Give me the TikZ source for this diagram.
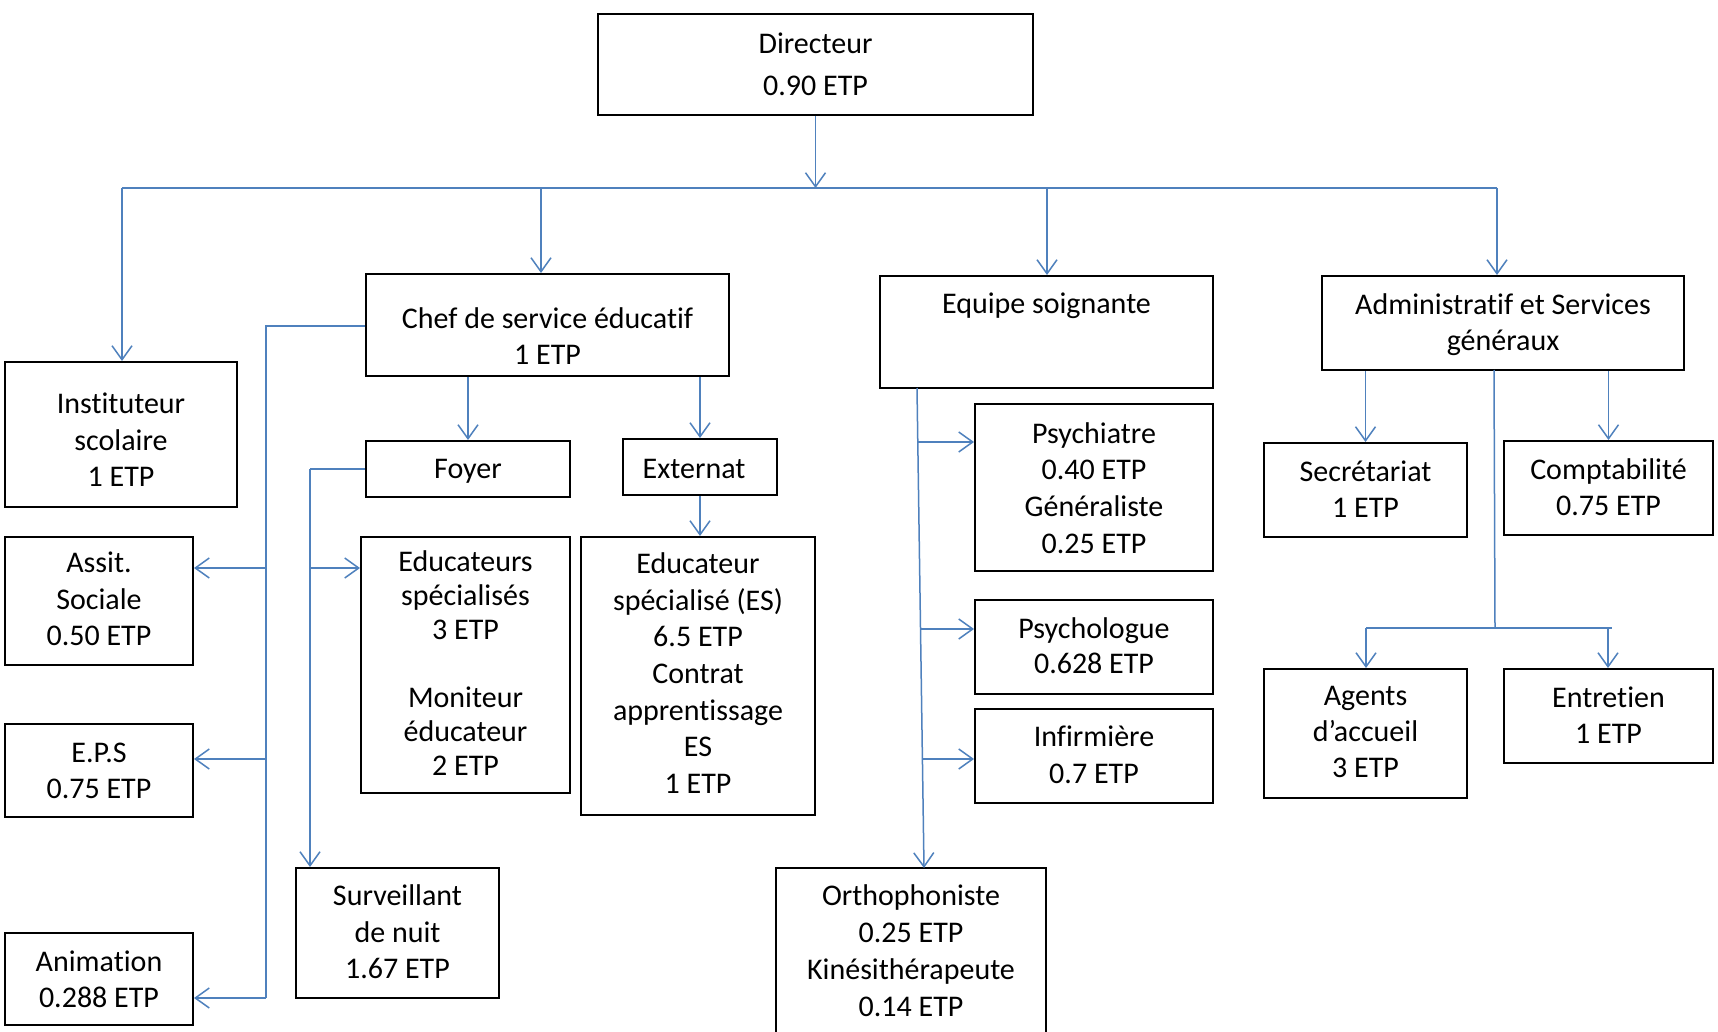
\documentclass[tikz,border=0pt]{standalone}
\usepackage{fontspec}
\setmainfont{Carlito}[Ligatures=NoCommon]
\usetikzlibrary{fit,arrows.meta}
\definecolor{conn}{RGB}{79,129,189}
\tikzset{
 box/.style={draw=black, line width=1pt, inner sep=0pt},
 txt/.style={align=center, inner sep=0pt, font=\fontsize{15pt}{#1}\selectfont},
 ln/.style={draw=conn, line width=0.75pt},
 arr/.style={ln, -{Straight Barb[length=7pt,width=10pt,line width=0.75pt]}},
}
\begin{document}
\begin{tikzpicture}[x=0.5pt,y=-0.5pt]
\fill[white] (0,0) rectangle (1718,1032);
\useasboundingbox (0,0) rectangle (1718,1032);
\clip (0,0) rectangle (1718,1032);
% boxes
\node[box, fit={(598,14) (1033,115)}] (dir) {};
\node[txt=21pt] (dirT) at (815.5,64) {Directeur\\0.90 ETP};
\node[box, fit={(5,362) (237,507)}] (inst) {};
\node[txt=18.25pt] (instT) at (121,440) {Instituteur\\scolaire\\1 ETP};
\node[box, fit={(366,274) (729,376)}] (chef) {};
\node[txt=18pt] (chefT) at (547.5,336) {Chef de service éducatif\\1 ETP};
\node[box, fit={(880,276) (1213,388)}] (equipe) {};
\node[txt=18pt] (equipeT) at (1046.5,306) {Equipe soignante};
\node[box, fit={(1322,276) (1684,370)}] (admin) {};
\node[txt=18pt] (adminT) at (1503,325) {Administratif et Services\\généraux};
\node[box, fit={(366,441) (570,497)}] (foyer) {};
\node[txt=18pt] (foyerT) at (468,471) {Foyer};
\node[box, fit={(623,439) (777,495)}] (ext) {};
\node[txt=18pt] (extT) at (694,469) {Externat};
\node[box, fit={(5,537) (193,665)}] (assit) {};
\node[txt=18.25pt] (assitT) at (99,599) {Assit.\\Sociale\\0.50 ETP};
\node[box, fit={(361,537) (570,793)}] (educs) {};
\node[txt=17pt] (educsT) at (465.5,663) {Educateurs\\spécialisés\\3 ETP\\[17pt]Moniteur\\éducateur\\2 ETP};
\node[box, fit={(581,537) (815,815)}] (es) {};
\node[txt=18.35pt] (esT) at (698,673) {Educateur\\spécialisé (ES)\\6.5 ETP\\Contrat\\apprentissage\\ES\\1 ETP};
\node[box, fit={(5,724) (193,817)}] (eps) {};
\node[txt=18pt] (epsT) at (99,771) {E.P.S\\0.75 ETP};
\node[box, fit={(5,933) (193,1025)}] (anim) {};
\node[txt=18pt] (animT) at (99,979) {Animation\\0.288 ETP};
\node[box, fit={(296,868) (499,998)}] (surv) {};
\node[txt=18.25pt] (survT) at (397.5,932) {Surveillant\\de nuit\\1.67 ETP};
\node[box, fit={(975,404) (1213,571)}] (psychiatre) {};
\node[txt=18.35pt] (psychiatreT) at (1094,488) {Psychiatre\\0.40 ETP\\Généraliste\\0.25 ETP};
\node[box, fit={(975,600) (1213,694)}] (psychologue) {};
\node[txt=17.5pt] (psychologueT) at (1094,646) {Psychologue\\0.628 ETP};
\node[box, fit={(975,709) (1213,803)}] (infirm) {};
\node[txt=18.5pt] (infirmT) at (1094,755) {Infirmière\\0.7 ETP};
\node[box, fit={(776,868) (1046,1045)}] (ortho) {};
\node[txt=18.5pt] (orthoT) at (911,951) {Orthophoniste\\0.25 ETP\\Kinésithérapeute\\0.14 ETP};
\node[box, fit={(1264,443) (1467,537)}] (secr) {};
\node[txt=18pt] (secrT) at (1365.5,489) {Secrétariat\\1 ETP};
\node[box, fit={(1504,441) (1713,535)}] (compt) {};
\node[txt=18pt] (comptT) at (1608.5,487) {Comptabilité\\0.75 ETP};
\node[box, fit={(1264,669) (1467,798)}] (agents) {};
\node[txt=18pt] (agentsT) at (1365.5,732) {Agents\\d’accueil\\3 ETP};
\node[box, fit={(1504,669) (1713,763)}] (entr) {};
\node[txt=18pt] (entrT) at (1608.5,715) {Entretien\\1 ETP};
% connectors
\coordinate (bus) at (815,188);
\draw[arr] (dir.south) -- (dir.south |- bus);
\coordinate (bL) at (122,188);
\coordinate (bC) at (541,188);
\coordinate (bE) at (1047,188);
\coordinate (bR) at (1497,188);
\draw[ln] (bL) -- (bR);
\draw[arr] (bL) -- (bL |- inst.north);
\draw[arr] (bC) -- (bC |- chef.north);
\draw[arr] (bE) -- (bE |- equipe.north);
\draw[arr] (bR) -- (bR |- admin.north);
% chef left branch
\coordinate (cl) at (266,326);
\coordinate (clb) at (266,998);
\coordinate (ca) at (266,568);
\coordinate (ce) at (266,759);
\draw[ln] (chef.west |- cl) -- (cl) -- (clb);
\draw[arr] (ca) -- (ca -| assit.east);
\draw[arr] (ce) -- (ce -| eps.east);
\draw[arr] (clb) -- (clb -| anim.east);
% foyer branch
\coordinate (fl) at (310,469);
\coordinate (fa) at (310,568);
\draw[ln] (foyer.west |- fl) -- (fl);
\draw[arr] (fl) -- (fl |- surv.north);
\draw[arr] (fa) -- (fa -| educs.west);
\draw[arr] (chef.south -| foyer.north) -- (foyer.north);
\draw[arr] (chef.south -| ext.north) -- (ext.north);
\draw[arr] (ext.south) -- (ext.south |- es.north);
% equipe branch
\coordinate (et) at (917,388);
\coordinate (eb) at (924,868);
\draw[arr] (et) -- (eb);
\coordinate (e1) at (918,442);
\coordinate (e2) at (920.5,629);
\coordinate (e3) at (922.4,759);
\draw[arr] (e1) -- (e1 -| psychiatre.west);
\draw[arr] (e2) -- (e2 -| psychologue.west);
\draw[arr] (e3) -- (e3 -| infirm.west);
% admin branch
\draw[arr] (secr.north |- admin.south) -- (secr.north);
\draw[arr] (compt.north |- admin.south) -- (compt.north);
\coordinate (am) at (1494,370);
\coordinate (amb) at (1495,628);
\coordinate (hl) at (1366,628);
\coordinate (hr) at (1612,628);
\coordinate (hr2) at (1608,628);
\draw[ln] (am) -- (amb);
\draw[ln] (hl) -- (hr);
\draw[arr] (hl) -- (hl |- agents.north);
\draw[arr] (hr2) -- (hr2 |- entr.north);
\end{tikzpicture}
\end{document}
